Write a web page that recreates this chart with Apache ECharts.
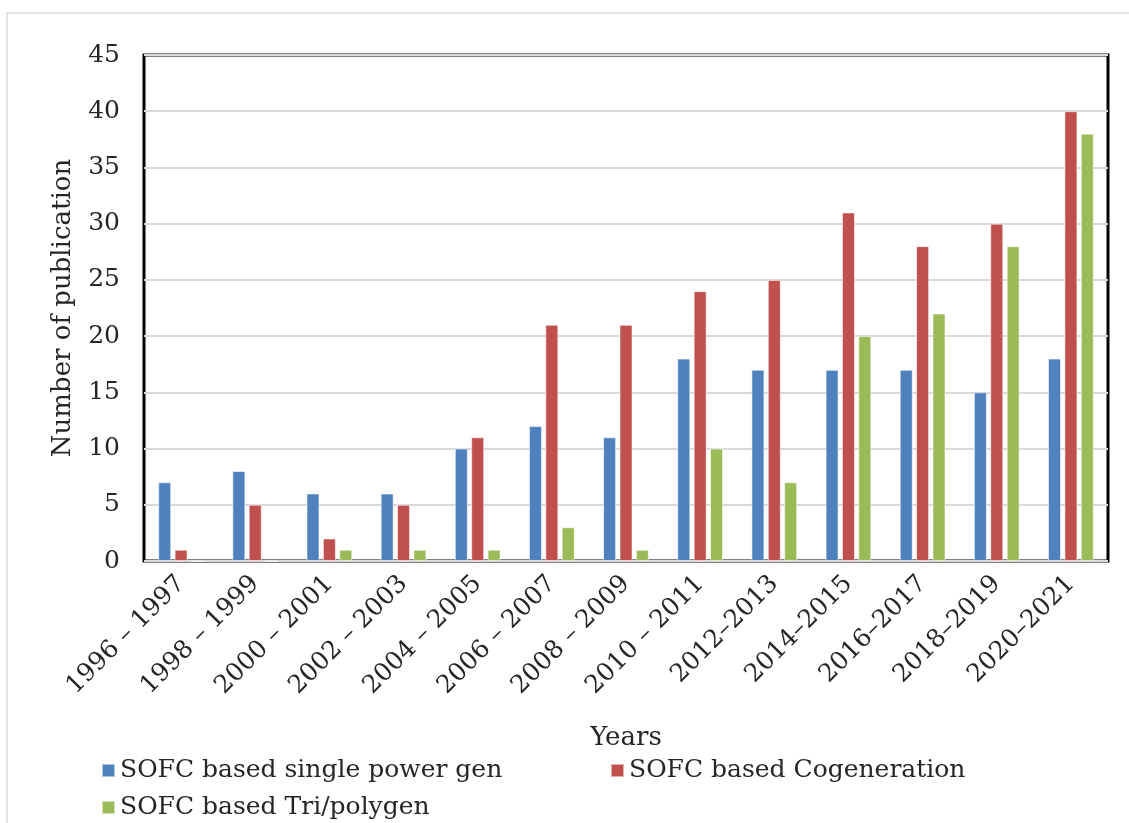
<!DOCTYPE html>
<html><head><meta charset="utf-8">
<script src="https://cdn.jsdelivr.net/npm/echarts@6/dist/echarts.min.js"></script>
<style>html,body{margin:0;padding:0;background:#fff}#c{width:1129px;height:823px}</style>
</head><body><div id="c"></div>
<script>
var categories = ["1996 \u2013 1997","1998 \u2013 1999","2000 \u2013 2001","2002 \u2013 2003","2004 \u2013 2005","2006 \u2013 2007","2008 \u2013 2009","2010 \u2013 2011","2012\u20132013","2014\u20132015","2016\u20132017","2018\u20132019","2020\u20132021"];
var seriesNames = ["SOFC based single power gen","SOFC based Cogeneration","SOFC based Tri/polygen"];
var singlePower = [7,8,6,6,10,12,11,18,17,17,17,15,18];
var cogeneration = [1,5,2,5,11,21,21,24,25,31,28,30,40];
var trigeneration = [0,0,1,1,1,3,1,10,7,20,22,28,38];
var colors = ["#4F81BD","#C0504D","#9BBB59"];
var F = "DejaVu Serif";
var chart = echarts.init(document.getElementById('c'));
function mk(name, data, color){
  return {name:name,type:'bar',data:data,barWidth:13,barGap:'26%',
    itemStyle:{color:color,borderColor:'rgba(255,255,255,0.55)',borderWidth:1}};
}
var txt = {fontFamily:F,fontSize:25,color:'#262626'};
function lg(name,left,top){
  return {data:[name],left:left,top:top,padding:0,itemWidth:13,itemHeight:13,icon:'rect',textStyle:txt,itemGap:6};
}
chart.setOption({
  animation:false,
  graphic:[{type:'rect',shape:{x:7,y:13,width:1140,height:840},style:{fill:null,stroke:'#d9d9d9',lineWidth:1.5},z:-10}],
  grid:{left:144,right:21,top:55,bottom:262,show:true,borderColor:'#000',borderWidth:3,backgroundColor:'transparent'},
  legend:[lg(seriesNames[0],101,758),lg(seriesNames[1],610,758),lg(seriesNames[2],101,795)],
  xAxis:{type:'category',data:categories,name:'Years',nameLocation:'middle',nameGap:164,
    nameTextStyle:{fontFamily:F,fontSize:26,color:'#262626'},
    axisLine:{show:false},axisTick:{show:false},
    axisLabel:{rotate:45,interval:0,margin:19,fontFamily:F,fontSize:25,color:'#262626'}},
  yAxis:{type:'value',min:0,max:45,interval:5,name:'Number of publication',nameLocation:'middle',nameGap:68,
    nameTextStyle:{fontFamily:F,fontSize:26,color:'#262626'},
    axisLine:{show:false},axisTick:{show:false},
    axisLabel:{margin:24,fontFamily:F,fontSize:25,color:'#262626'},
    splitLine:{lineStyle:{color:'#d9d9d9',width:2}}},
  series:[mk(seriesNames[0],singlePower,colors[0]),mk(seriesNames[1],cogeneration,colors[1]),mk(seriesNames[2],trigeneration,colors[2])]
});
</script></body></html>
